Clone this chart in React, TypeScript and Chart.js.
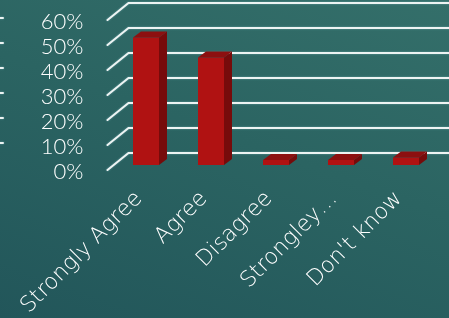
import React, { useEffect, useRef } from "react";
import { Chart, registerables } from "chart.js";

Chart.register(...registerables);

const categories = ["Strongly Agree", "Agree", "Disagree", "Strongley…", "Don't know"];
const values = [51, 43, 2, 2, 3];
const yMin = 0;
const yMax = 60;
const yStep = 10;

// 3D styling offsets (pixels)
const WALL_FRONT = { dx: -6, dy: 5 };
const WALL_BACK = { dx: 15, dy: -12 };
const BAR_DEPTH = { dx: 8, dy: -6 };

const threeD = {
  id: "threeD",
  beforeDatasetsDraw(chart: any) {
    const { ctx, scales, chartArea, width } = chart;
    const y = scales.y;
    ctx.save();
    ctx.lineCap = "round";
    ctx.strokeStyle = "rgba(246,250,249,0.95)";
    ctx.lineWidth = 2;
    ctx.shadowColor = "rgba(150,200,210,0.6)";
    ctx.shadowBlur = 2;
    y.ticks.forEach((t: any) => {
      const py = y.getPixelForValue(t.value);
      ctx.beginPath();
      ctx.moveTo(chartArea.left + WALL_FRONT.dx, py + WALL_FRONT.dy);
      ctx.lineTo(chartArea.left + WALL_BACK.dx, py + WALL_BACK.dy);
      ctx.lineTo(width + 5, py + WALL_BACK.dy);
      ctx.stroke();
    });
    // small marks at left edge
    y.ticks.forEach((t: any) => {
      if (t.value === 0) return;
      const py = y.getPixelForValue(t.value) + WALL_FRONT.dy - 2;
      ctx.beginPath();
      ctx.moveTo(0, py);
      ctx.lineTo(3, py);
      ctx.stroke();
    });
    ctx.restore();
  },
  afterDatasetsDraw(chart: any) {
    const { ctx } = chart;
    const meta = chart.getDatasetMeta(0);
    ctx.save();
    meta.data.forEach((bar: any) => {
      const { x, y, base, width } = bar.getProps(["x", "y", "base", "width"], true);
      const l = x - width / 2;
      const r = x + width / 2;
      // side
      ctx.fillStyle = "#760b0b";
      ctx.beginPath();
      ctx.moveTo(r, y);
      ctx.lineTo(r + BAR_DEPTH.dx, y + BAR_DEPTH.dy);
      ctx.lineTo(r + BAR_DEPTH.dx, base + BAR_DEPTH.dy);
      ctx.lineTo(r, base);
      ctx.closePath();
      ctx.fill();
      // top
      ctx.fillStyle = "#8c1010";
      ctx.beginPath();
      ctx.moveTo(l, y);
      ctx.lineTo(l + BAR_DEPTH.dx, y + BAR_DEPTH.dy);
      ctx.lineTo(r + BAR_DEPTH.dx, y + BAR_DEPTH.dy);
      ctx.lineTo(r, y);
      ctx.closePath();
      ctx.fill();
    });
    ctx.restore();
  },
};

export default function App() {
  const ref = useRef<HTMLCanvasElement | null>(null);
  useEffect(() => {
    if (!ref.current) return;
    const chart = new Chart(ref.current, {
      type: "bar",
      data: {
        labels: categories,
        datasets: [
          {
            data: values,
            backgroundColor: "#b01212",
            borderWidth: 0,
            categoryPercentage: 1,
            barPercentage: 0.4,
          },
        ],
      },
      options: {
        animation: false,
        responsive: false,
        devicePixelRatio: 1,
        layout: { padding: { left: 0, top: 15, right: 10.5, bottom: 0 } },
        plugins: { legend: { display: false }, tooltip: { enabled: false } },
        scales: {
          x: {
            grid: { display: false, drawTicks: false },
            border: { display: false },
            ticks: {
              color: "#ffffff",
              font: { family: "'DejaVu Sans'", size: 22, weight: "200" },
              minRotation: 45,
              maxRotation: 45,
              padding: 21,
              labelOffset: -7,
              autoSkip: false,
            },
            afterFit(scale: any) {
              scale.height = 153;
              scale.paddingLeft = 0;
              scale.paddingRight = 0;
            },
          },
          y: {
            min: yMin,
            max: yMax,
            grid: { display: false, drawTicks: false },
            border: { display: false },
            ticks: {
              stepSize: yStep,
              color: "#ffffff",
              font: { family: "Lato", size: 22, lineHeight: 1, weight: "300" },
              padding: 30,
              labelOffset: 7,
              autoSkip: false,
              callback: (v: any) => v + "%",
            },
            afterFit(scale: any) {
              scale.width = 113.5;
              scale.paddingTop = 0;
              scale.paddingBottom = 0;
            },
          },
        },
      },
      plugins: [threeD],
    });
    return () => chart.destroy();
  }, []);
  return (
    <div
      style={{
        position: "fixed",
        left: 0,
        top: 0,
        width: 449,
        height: 318,
        background: "linear-gradient(200deg, #346f6a 0%, #2b6462 45%, #22565a 100%)",
      }}
    >
      <canvas ref={ref} width={449} height={318} style={{ display: "block" }} />
    </div>
  );
}
